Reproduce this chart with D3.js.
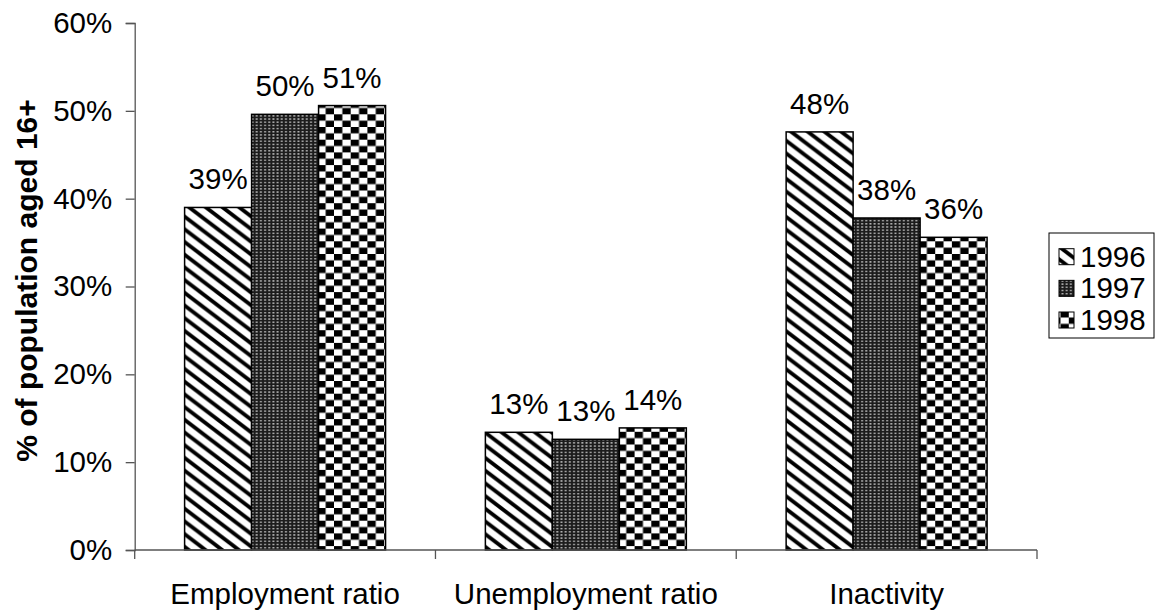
<!DOCTYPE html>
<html>
<head>
<meta charset="utf-8">
<script src="https://cdn.jsdelivr.net/npm/d3@7"></script>
<style>
  body { margin: 0; background: #fff; }
  svg text { font-family: Arial, "Liberation Sans", sans-serif; fill: #000; }
</style>
</head>
<body>
<div id="main"></div>
<script>
const categories = ["Employment ratio", "Unemployment ratio", "Inactivity"];
const years = ["1996", "1997", "1998"];
const values1996 = [39.0, 13.4, 47.6];
const values1997 = [49.6, 12.6, 37.8];
const values1998 = [50.6, 13.9, 35.6];
const yTicks = [0, 10, 20, 30, 40, 50, 60];

const width = 1159, height = 611;
const plot = { left: 134.7, right: 1037, top: 23, bottom: 550 };
const FS = '29.5px';

const svg = d3.select('#main').append('svg')
    .attr('width', width)
    .attr('height', height);

// fill patterns for the three years
const defs = svg.append('defs');
const pw = 16.7, ph = 12.7;

let p1 = defs.append('pattern').attr('id', 'pat1996')
    .attr('patternUnits', 'userSpaceOnUse').attr('width', pw).attr('height', ph);
p1.append('rect').attr('width', pw).attr('height', ph).attr('fill', '#fff');
[-1, 0, 1].forEach(k => {
    p1.append('path')
        .attr('d', `M${k * pw - pw},${-ph} L${k * pw + 2 * pw},${2 * ph}`)
        .attr('stroke', '#000').attr('stroke-width', 3.8);
});

let p2 = defs.append('pattern').attr('id', 'pat1997')
    .attr('patternUnits', 'userSpaceOnUse').attr('width', pw / 4).attr('height', ph / 4);
p2.append('rect').attr('width', pw / 4).attr('height', ph / 4).attr('fill', '#1c1c1c');
p2.append('rect').attr('x', 1.1).attr('y', 0.8).attr('width', 1.9).attr('height', 1.5).attr('fill', '#b4b4b4');

let p3 = defs.append('pattern').attr('id', 'pat1998')
    .attr('patternUnits', 'userSpaceOnUse').attr('width', pw).attr('height', ph);
p3.append('rect').attr('width', pw).attr('height', ph).attr('fill', '#fff');
p3.append('rect').attr('width', pw / 2).attr('height', ph / 2).attr('fill', '#000');
p3.append('rect').attr('x', pw / 2).attr('y', ph / 2).attr('width', pw / 2).attr('height', ph / 2).attr('fill', '#000');

const fills = { "1996": "url(#pat1996)", "1997": "url(#pat1997)", "1998": "url(#pat1998)" };

const x = d3.scaleBand().domain(categories).range([plot.left, plot.right]).padding(0);
const xInner = d3.scaleBand().domain(years).range([0, x.bandwidth()])
    .paddingInner(0).paddingOuter(0.745);
const y = d3.scaleLinear().domain([0, 60]).range([plot.bottom, plot.top]);

const rows = [];
categories.forEach((c, i) => {
    rows.push({ cat: c, year: "1996", v: values1996[i] });
    rows.push({ cat: c, year: "1997", v: values1997[i] });
    rows.push({ cat: c, year: "1998", v: values1998[i] });
});

// bars
svg.append('g').selectAll('rect')
    .data(rows)
    .enter()
    .append('rect')
    .attr('x', d => x(d.cat) + xInner(d.year))
    .attr('y', d => y(d.v))
    .attr('width', xInner.bandwidth())
    .attr('height', d => y(0) - y(d.v))
    .attr('fill', d => fills[d.year])
    .attr('stroke', '#000')
    .attr('stroke-width', 1.5);

// value labels
svg.append('g').selectAll('text')
    .data(rows)
    .enter()
    .append('text')
    .attr('x', d => x(d.cat) + xInner(d.year) + xInner.bandwidth() / 2)
    .attr('y', d => y(d.v) - 18)
    .attr('text-anchor', 'middle')
    .style('font-size', FS)
    .text(d => Math.round(d.v) + '%');

// y axis
const yAxis = d3.axisLeft(y)
    .tickValues(yTicks)
    .tickFormat(d => d + '%')
    .tickSize(9)
    .tickPadding(13.5);
const gy = svg.append('g')
    .attr('transform', `translate(${plot.left},0)`)
    .call(yAxis);
gy.select('.domain').attr('stroke', '#555').attr('stroke-width', 1.3);
gy.selectAll('.tick line').attr('stroke', '#555').attr('stroke-width', 1.3);
gy.selectAll('.tick text').style('font-size', FS).style('font-family', 'Arial, "Liberation Sans", sans-serif').attr('fill', '#000');

// x axis
const gx = svg.append('g');
gx.append('line')
    .attr('x1', plot.left).attr('x2', plot.right)
    .attr('y1', y(0)).attr('y2', y(0))
    .attr('stroke', '#555').attr('stroke-width', 1.3);
const tickXs = categories.map(c => x(c)).concat([x.range()[1]]);
gx.selectAll('line.tk')
    .data(tickXs)
    .enter()
    .append('line')
    .attr('class', 'tk')
    .attr('x1', d => d).attr('x2', d => d)
    .attr('y1', y(0)).attr('y2', y(0) + 9)
    .attr('stroke', '#555').attr('stroke-width', 1.3);
gx.selectAll('text')
    .data(categories)
    .enter()
    .append('text')
    .attr('x', d => x(d) + x.bandwidth() / 2)
    .attr('y', 604)
    .attr('text-anchor', 'middle')
    .style('font-size', FS)
    .text(d => d);

// y title
svg.append('text')
    .attr('transform', `translate(37,${(plot.top + plot.bottom) / 2 - 6}) rotate(-90)`)
    .attr('text-anchor', 'middle')
    .style('font-size', '30px')
    .style('font-weight', 'bold')
    .text('% of population aged 16+');

// legend
const legend = svg.append('g');
legend.append('rect')
    .attr('x', 1049).attr('y', 233)
    .attr('width', 105).attr('height', 105)
    .attr('fill', '#fff').attr('stroke', '#000').attr('stroke-width', 1);
const ly = d3.scalePoint().domain(years).range([256.7, 320]);
years.forEach(yr => {
    legend.append('rect')
        .attr('x', 1059).attr('y', ly(yr) - 8)
        .attr('width', 15).attr('height', 16)
        .attr('fill', fills[yr])
        .attr('stroke', '#000').attr('stroke-width', 1);
    legend.append('text')
        .attr('x', 1080).attr('y', ly(yr) + 10)
        .style('font-size', FS)
        .text(yr);
});
</script>
</body>
</html>
